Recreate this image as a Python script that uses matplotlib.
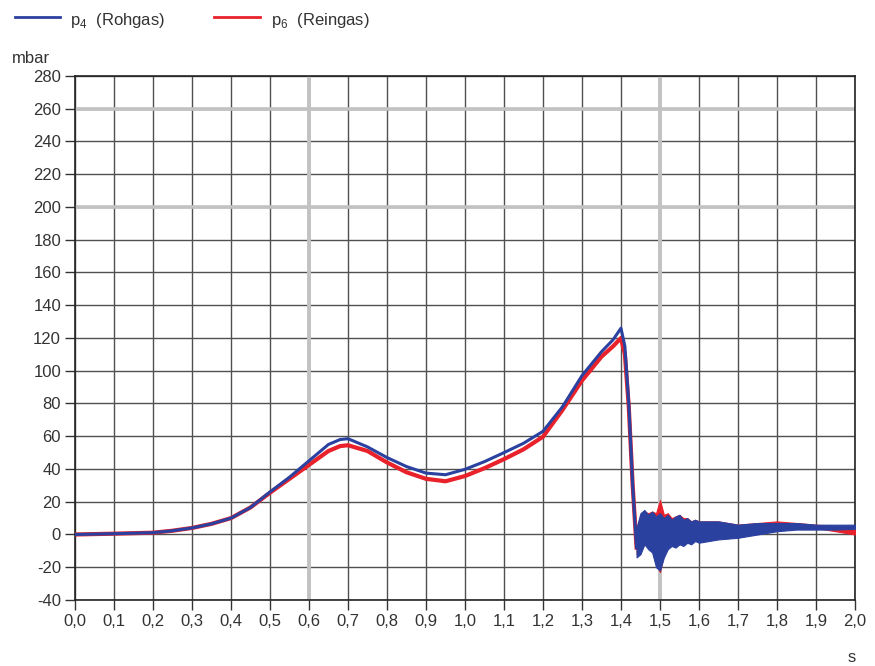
import numpy as np
import matplotlib.pyplot as plt

plt.rcParams['font.family'] = ['Liberation Sans', 'DejaVu Sans']
plt.rcParams['axes.unicode_minus'] = False
plt.rcParams['mathtext.fontset'] = 'custom'
plt.rcParams['mathtext.rm'] = 'Liberation Sans'

# Kurvenverlauf, Zeit in s, Druck in mbar
t_main = [0.0, 0.1, 0.2, 0.25, 0.3, 0.35, 0.4, 0.45, 0.5, 0.55, 0.6, 0.65,
          0.68, 0.7, 0.75, 0.8, 0.85, 0.9, 0.95, 1.0, 1.05, 1.1, 1.15, 1.2,
          1.25, 1.3, 1.35, 1.38, 1.4, 1.41, 1.42, 1.43, 1.44]
p4_main = [0, 0.5, 1.1, 2.3, 4, 6.5, 10, 16.5, 26, 35, 45, 55,
           58, 58.5, 53.5, 47, 41.5, 37.5, 36.5, 39.8, 44.5, 50, 55.7, 63,
           78, 97, 111.6, 119, 126, 115, 80, 30, -8]
p6_main = [0, 0.5, 1.1, 2.3, 4, 6.5, 10, 16.5, 25.5, 34, 42.5, 51,
           54, 54.5, 51, 44, 38, 34, 32.5, 35.7, 40.5, 46, 52, 59.7,
           76, 94, 108.6, 115, 120, 110, 78, 30, -8]

# verrauschter Bereich nach dem Druckabfall: Huellkurven
t_noise = [1.44, 1.45, 1.46, 1.47, 1.48, 1.49, 1.50, 1.51, 1.52, 1.53,
           1.54, 1.55, 1.56, 1.57, 1.58, 1.59, 1.60, 1.65, 1.70, 1.75,
           1.80, 1.85, 1.90, 1.95, 2.00]
p4_hi = [4, 13, 15, 12, 14, 11, 13, 10, 12, 9, 11, 12, 9, 10, 8, 9, 8,
         8, 6, 7, 7, 7, 6, 6, 6]
p4_lo = [-14, -12, -6, -9, -11, -20, -22, -14, -9, -7, -8, -6, -7, -5, -6,
         -4, -5, -3, -2, 0, 2, 3, 3, 3, 3.5]
p6_hi = [4, 12, 14, 13, 14, 13, 21, 12, 13, 10, 11, 12, 10, 10, 8, 9, 8,
         8, 6, 7, 8, 7, 6, 5, 3]
p6_lo = [-12, -10, -5, -7, -9, -18, -23, -12, -8, -6, -7, -5, -6, -4, -5,
         -3, -4, -2, -1, 1, 3, 4, 4, 2, 0]

blue = '#2b41a0'
red = '#e8212b'

fig = plt.figure(figsize=(8.75, 6.66), dpi=100)
ax = fig.add_axes([0.0857, 0.0991, 0.8914, 0.7868])

ax.plot(t_main, p6_main, color=red, lw=3.0, zorder=3, solid_joinstyle='round')
ax.fill_between(t_noise, p6_lo, p6_hi, facecolor=red, edgecolor=red,
                lw=0.8, zorder=3)
ax.plot(t_main, p4_main, color=blue, lw=2.2, zorder=4, solid_joinstyle='round')
ax.fill_between(t_noise, p4_lo, p4_hi, facecolor=blue, edgecolor=blue,
                lw=0.8, zorder=4)

ax.set_xlim(0, 2.0)
ax.set_ylim(-40, 280)
xt = np.round(np.arange(0, 2.01, 0.1), 1)
ax.set_xticks(xt)
ax.set_xticklabels([f'{v:.1f}'.replace('.', ',') for v in xt])
ax.set_yticks(np.arange(-40, 281, 20))
ax.tick_params(axis='both', direction='out', length=7, width=1.0,
               labelsize=12, colors='#333333', pad=3)
ax.grid(True, color='#505050', lw=1.0)
# breitere hellgraue Linien wie im Original
for xv in [0.6, 1.5]:
    ax.axvline(xv, color='#c2c2c2', lw=2.8, zorder=1.8)
for yv in [260, 200]:
    ax.axhline(yv, color='#c2c2c2', lw=2.6, zorder=1.8)
for s in ax.spines.values():
    s.set_color('#222222')
    s.set_linewidth(1.2)

fig.text(0.014, 0.905, 'mbar', fontsize=12, color='#333333')
fig.text(0.969, 0.006, 's', fontsize=12, color='#333333')

# Legende oben links
fig.lines.append(plt.Line2D([0.017, 0.069], [0.975, 0.975], color=blue, lw=2,
                            transform=fig.transFigure))
fig.text(0.08, 0.962, r'p$_\mathregular{4}$  (Rohgas)', fontsize=12,
         color='#333333')
fig.lines.append(plt.Line2D([0.245, 0.297], [0.975, 0.975], color=red, lw=2,
                            transform=fig.transFigure))
fig.text(0.31, 0.962, r'p$_\mathregular{6}$  (Reingas)', fontsize=12,
         color='#333333')

fig.savefig('out.png', dpi=100)
